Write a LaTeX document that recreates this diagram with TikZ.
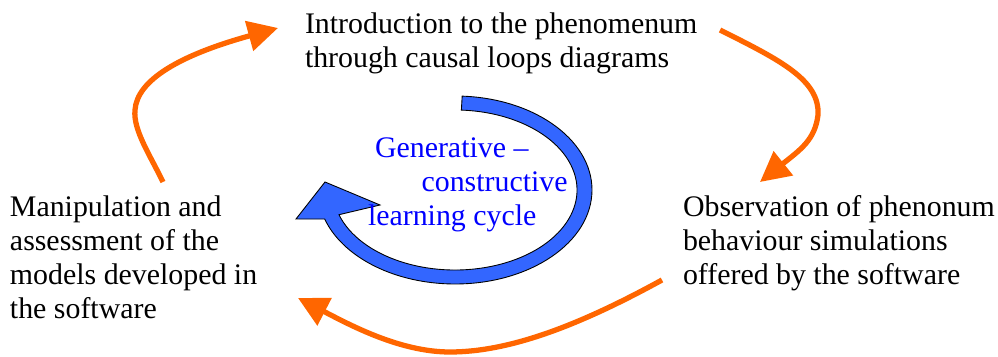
\documentclass[tikz,border=0pt]{standalone}
\usepackage{fontspec}
\setmainfont{Liberation Serif}
\usetikzlibrary{arrows.meta,calc}
\definecolor{cycleblue}{RGB}{51,102,255}
\definecolor{cycleorange}{RGB}{255,102,0}

\begin{document}
\begin{tikzpicture}[x=0.02cm, y=-0.02cm,
    every node/.style = {inner sep=0pt, outer sep=0pt, align=left,
      font=\fontsize{17}{19.4}\selectfont},
    stage/.style = {anchor=base west, text=black},
    cyclearrow/.style = {draw=cycleorange, line width=3pt,
      -{Triangle[length=0.6cm, width=0.6cm]}},
    bigarrow/.style = {fill=cycleblue, draw=black, line width=0.5pt}]
  \useasboundingbox (0,0) rectangle (998,357);

  % the three stages (placed at the baseline of their last line)
  \node[stage] (intro) at (305,68)
    {Introduction to the phenomenum\\through causal loops diagrams};
  \node[stage] (observe) at (683,285)
    {Observation of phenonum\\behaviour simulations\\offered by the software};
  \node[stage] (manip) at (10,319)
    {Manipulation and\\assessment of the\\models developed in\\the software};

  % blue cycle in the middle
  \coordinate (c) at (455,190);
  \path[bigarrow]
    ($(c)+(273:137 and 94)$) arc[start angle=273, end angle=522, x radius=137, y radius=94]
    -- (296,219) -- (325,182) -- (380,205)
    -- ($(c)+(522:122 and 80)$) arc[start angle=522, end angle=273, x radius=122, y radius=80]
    -- cycle;
  \node[anchor=base west, text=blue] (cyclelabel) at (368,226)
    {\hspace*{4pt}Generative –\\\hspace*{30.5pt}constructive\\learning cycle};

  % orange arrows between the stages
  \coordinate (m1) at (163,182);
  \coordinate (i1) at (278,28);
  \coordinate (i2) at (720,30);
  \coordinate (o1) at (760,182);
  \coordinate (o2) at (662,280);
  \coordinate (m2) at (298,298);
  \draw[cyclearrow] (m1) .. controls (150,155) and (133,130) .. (135,110)
    .. controls (137,80) and (180,55) .. (i1);
  \draw[cyclearrow] (i2) .. controls (780,60) and (820,80) .. (818,115)
    .. controls (815,140) and (800,150) .. (o1);
  \draw[cyclearrow] (o2) .. controls (580,325) and (510,352) .. (450,352)
    .. controls (400,352) and (350,325) .. (m2);
\end{tikzpicture}
\end{document}
